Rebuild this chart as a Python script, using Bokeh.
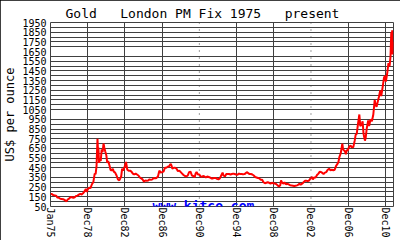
from bokeh.plotting import figure
from bokeh.models import FixedTicker, Span, Label, Range1d
from bokeh.embed import file_html
from bokeh.resources import INLINE

# Gold, London PM fix, decimal year / US$ per ounce
years = [
    1975.00, 1975.15, 1975.30, 1975.45, 1975.60, 1975.75, 1975.90,
    1976.05, 1976.20, 1976.35, 1976.50, 1976.65, 1976.72, 1976.85,
    1977.00, 1977.15, 1977.30, 1977.45, 1977.60, 1977.75, 1977.90,
    1978.05, 1978.20, 1978.35, 1978.50, 1978.65, 1978.80, 1978.90,
    1979.00, 1979.15, 1979.30, 1979.45, 1979.60, 1979.75, 1979.85, 1979.95,
    1980.05, 1980.10, 1980.15, 1980.22, 1980.30, 1980.40, 1980.50, 1980.60,
    1980.70, 1980.78, 1980.88,
    1981.00, 1981.10, 1981.20, 1981.35, 1981.45, 1981.55, 1981.70, 1981.80, 1981.95,
    1982.10, 1982.25, 1982.40, 1982.50, 1982.60, 1982.70, 1982.80, 1982.90,
    1983.00, 1983.12, 1983.25, 1983.40, 1983.55, 1983.70, 1983.85,
    1984.00, 1984.15, 1984.30, 1984.45, 1984.60, 1984.75, 1984.90,
    1985.05, 1985.20, 1985.35, 1985.50, 1985.65, 1985.80, 1985.95,
    1986.10, 1986.25, 1986.40, 1986.55, 1986.70, 1986.85,
    1987.00, 1987.15, 1987.30, 1987.45, 1987.60, 1987.75, 1987.90,
    1988.00, 1988.10, 1988.25, 1988.40, 1988.55, 1988.70, 1988.85,
    1989.00, 1989.15, 1989.30, 1989.45, 1989.60, 1989.75, 1989.90,
    1990.05, 1990.20, 1990.35, 1990.50, 1990.60, 1990.70, 1990.85,
    1991.00, 1991.10, 1991.25, 1991.40, 1991.55, 1991.70, 1991.85,
    1992.00, 1992.15, 1992.30, 1992.45, 1992.60, 1992.75, 1992.90,
    1993.05, 1993.20, 1993.35, 1993.50, 1993.60, 1993.75, 1993.90,
    1994.05, 1994.20, 1994.35, 1994.50, 1994.65, 1994.80, 1994.95,
    1995.10, 1995.25, 1995.40, 1995.55, 1995.70, 1995.85,
    1996.00, 1996.10, 1996.25, 1996.40, 1996.55, 1996.70, 1996.85,
    1997.00, 1997.15, 1997.30, 1997.45, 1997.60, 1997.75, 1997.90,
    1998.05, 1998.20, 1998.35, 1998.50, 1998.65, 1998.80, 1998.95,
    1999.10, 1999.25, 1999.40, 1999.55, 1999.70, 1999.78, 1999.90,
    2000.05, 2000.15, 2000.30, 2000.45, 2000.60, 2000.75, 2000.90,
    2001.05, 2001.20, 2001.35, 2001.50, 2001.65, 2001.75, 2001.90,
    2002.05, 2002.20, 2002.35, 2002.50, 2002.65, 2002.80, 2002.95,
    2003.10, 2003.20, 2003.35, 2003.50, 2003.65, 2003.80, 2003.95,
    2004.10, 2004.25, 2004.35, 2004.50, 2004.65, 2004.80, 2004.95,
    2005.10, 2005.25, 2005.40, 2005.55, 2005.70, 2005.85, 2005.95,
    2006.05, 2006.20, 2006.37, 2006.45, 2006.55, 2006.65, 2006.75, 2006.85, 2006.95,
    2007.10, 2007.25, 2007.40, 2007.55, 2007.70, 2007.80, 2007.92,
    2008.05, 2008.20, 2008.30, 2008.45, 2008.55, 2008.65, 2008.80, 2008.88,
    2009.00, 2009.15, 2009.25, 2009.40, 2009.55, 2009.70, 2009.85, 2009.95,
    2010.05, 2010.15, 2010.30, 2010.45, 2010.55, 2010.70, 2010.85, 2010.95,
    2011.05, 2011.20, 2011.33, 2011.45, 2011.55, 2011.63, 2011.68, 2011.73,
    2011.78, 2011.83, 2011.87,
]
prices = [
    180, 178, 168, 165, 162, 142, 140,
    130, 128, 126, 118, 108, 104, 122,
    132, 146, 148, 140, 146, 158, 162,
    172, 180, 174, 186, 206, 232, 200,
    226, 245, 240, 280, 300, 390, 385, 470,
    750, 640, 660, 500, 540, 520, 640, 610,
    700, 660, 620,
    580, 500, 520, 470, 430, 420, 440, 410, 400,
    370, 330, 320, 340, 360, 440, 420, 440,
    470, 510, 430, 420, 420, 410, 390,
    380, 390, 380, 370, 350, 340, 330,
    305, 320, 315, 318, 330, 325, 330,
    345, 340, 345, 360, 420, 400,
    405, 410, 450, 450, 460, 465, 490,
    475, 440, 450, 450, 440, 415, 420,
    405, 390, 375, 365, 360, 370, 405,
    410, 370, 365, 352, 390, 405, 380,
    380, 365, 355, 365, 360, 350, 360,
    355, 350, 340, 340, 345, 345, 335,
    330, 340, 370, 400, 370, 360, 385,
    385, 385, 380, 385, 390, 385, 380,
    378, 390, 385, 385, 383, 385,
    395, 405, 395, 385, 385, 380, 370,
    355, 350, 345, 340, 325, 325, 300,
    290, 295, 300, 295, 285, 295, 290,
    287, 282, 270, 256, 270, 320, 295,
    285, 300, 280, 285, 278, 270, 268,
    265, 262, 265, 268, 275, 285, 277,
    285, 300, 315, 315, 312, 318, 340,
    355, 330, 350, 350, 375, 390, 410,
    405, 395, 385, 400, 405, 430, 440,
    425, 430, 425, 430, 470, 490, 510,
    560, 600, 700, 640, 630, 620, 590, 630, 630,
    665, 680, 660, 665, 730, 790, 800,
    900, 1000, 880, 900, 930, 800, 730, 760,
    860, 940, 880, 950, 930, 1000, 1150, 1100,
    1080, 1120, 1180, 1250, 1190, 1280, 1380, 1400,
    1340, 1430, 1530, 1500, 1600, 1850, 1750, 1870,
    1620, 1750, 1700,
]

x_ticks = [1975, 1979, 1983, 1987, 1991, 1995, 1999, 2003, 2007, 2011]
x_labels = ["Jan75", "Dec78", "Dec82", "Dec86", "Dec90", "Dec94",
            "Dec98", "Dec02", "Dec06", "Dec10"]
dotted_x = [1991, 2003]
y_ticks = list(range(50, 2000, 100))
missing_y = [400, 1000, 1650]
grid_y = [v for v in range(50, 2000, 50) if v not in missing_y]

FONT = "DejaVu Sans Mono"
GRID = "#404040"
NB = "\u00a0"

p = figure(width=400, height=240, output_backend="svg", toolbar_location=None,
           x_range=Range1d(1975, 2011.87), y_range=Range1d(50, 1950),
           min_border_left=45, min_border_right=7, min_border_top=22,
           min_border_bottom=31)
p.background_fill_color = "white"
p.border_fill_color = "white"
p.outline_line_color = GRID
p.outline_line_width = 1

p.title.text = "Gold" + NB * 3 + "London" + NB + "PM" + NB + "Fix" + NB + "1975" + NB * 3 + "present"
p.title.text_font = FONT
p.title.text_font_size = "13px"
p.title.text_font_style = "normal"
p.title.text_color = "black"
p.title.align = "left"
p.title.offset = 15
p.title.standoff = 3

# axes
p.xaxis.ticker = FixedTicker(ticks=x_ticks)
p.xaxis.major_label_overrides = {t: l for t, l in zip(x_ticks, x_labels)}
p.xaxis.major_label_orientation = "vertical"
p.yaxis.ticker = FixedTicker(ticks=y_ticks)
for ax in (p.xaxis[0], p.yaxis[0]):
    ax.axis_line_color = None
    ax.major_tick_line_color = None
    ax.minor_tick_line_color = None
    ax.major_tick_out = 0
    ax.major_tick_in = 0
    ax.major_label_text_font = FONT
    ax.major_label_text_font_size = "10px"
    ax.major_label_text_color = "black"
p.xaxis.major_label_standoff = 1
p.yaxis.major_label_standoff = 4
p.yaxis.axis_label = "US$" + NB + "per" + NB + "ounce"
p.yaxis.axis_label_text_font = FONT
p.yaxis.axis_label_text_font_size = "12px"
p.yaxis.axis_label_text_font_style = "normal"
p.yaxis.axis_label_text_color = "black"
p.yaxis.axis_label_standoff = 2

# grids
p.ygrid.ticker = FixedTicker(ticks=grid_y)
p.ygrid.grid_line_color = GRID
p.ygrid.grid_line_width = 1
p.xgrid.ticker = FixedTicker(ticks=[t for t in x_ticks if t not in dotted_x])
p.xgrid.grid_line_color = GRID
p.xgrid.grid_line_width = 1
for xv in dotted_x:
    p.add_layout(Span(location=xv, dimension="height", line_color=GRID,
                      line_width=1, line_dash="1 6"))

p.add_layout(Label(x=1991.44, y=58, text="www.kitco.com", text_align="center",
                   text_font=FONT, text_font_size="13px", text_font_style="bold",
                   text_color="#0000ff", text_baseline="alphabetic"))

p.line(years, prices, line_color="#ff0000", line_width=2)

p.styles = {"outline": "1px solid black", "outline-offset": "-1px"}

open("out.html", "w").write(file_html(p, INLINE))
